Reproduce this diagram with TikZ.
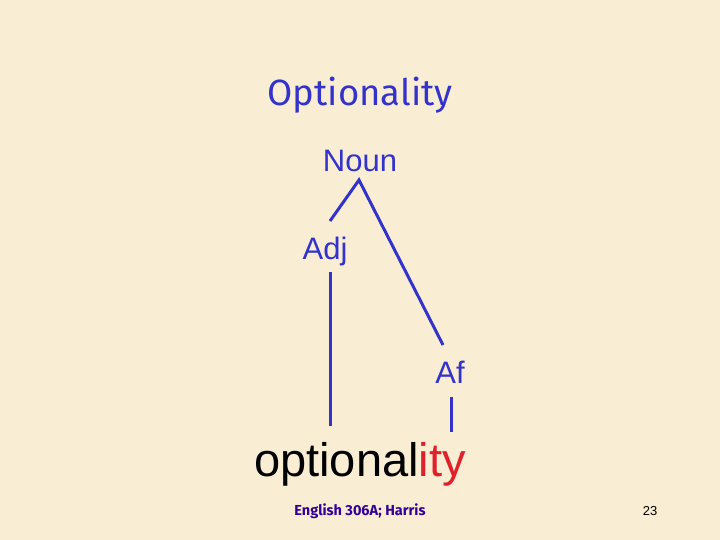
\documentclass[tikz,border=0pt]{standalone}
\usepackage{fontspec}
\setmainfont{Liberation Sans}
\newfontfamily\titlefont{Fira Sans}
\usetikzlibrary{calc}
\definecolor{paper}{HTML}{F9EDD3}
\definecolor{treeblue}{HTML}{3333CC}
\definecolor{footpurple}{HTML}{330099}
\definecolor{affred}{HTML}{E0202A}
\tikzset{
  lbl/.style={inner sep=0pt, anchor=base, text=treeblue, font=\fontsize{31}{31}\selectfont},
  branch/.style={draw=treeblue, line width=3pt},
}
\begin{document}
\begin{tikzpicture}[x=1pt,y=-1pt]
\fill[paper] (0,0) rectangle (720,540);
\useasboundingbox (0,0) rectangle (720,540);
\node[inner sep=0pt, anchor=base, text=treeblue, font=\titlefont\fontsize{36.5}{36.5}\selectfont] (title) at (360,106) {Optionality};
\node[lbl] (noun) at (360,172) {Noun};
\node[lbl] (adj) at (325,259) {Adj};
\node[lbl] (af) at (450,383) {Af};
\node[inner sep=0pt, anchor=base, font=\fontsize{47}{47}\selectfont] (word) at (360,476) {optional\textcolor{affred}{ity}};
\node[inner sep=0pt, anchor=base, text=footpurple, font=\titlefont\bfseries\fontsize{14.5}{14.5}\selectfont] (foot) at (360,515) {English 306A; Harris};
\node[inner sep=0pt, anchor=base, font=\fontsize{13}{13}\selectfont] (page) at (650,515) {23};
\coordinate (apex) at (359,180);
\coordinate (adjtop) at (330,221);
\coordinate (aftop) at (443,345);
\coordinate (adjbot) at (330,272);
\coordinate (wordl) at (330,426);
\coordinate (afbot) at (451,397);
\coordinate (wordr) at (451,432);
\draw[branch] (adjtop) -- (apex) -- (aftop);
\draw[branch] (adjbot) -- (wordl);
\draw[branch] (afbot) -- (wordr);
\end{tikzpicture}
\end{document}
